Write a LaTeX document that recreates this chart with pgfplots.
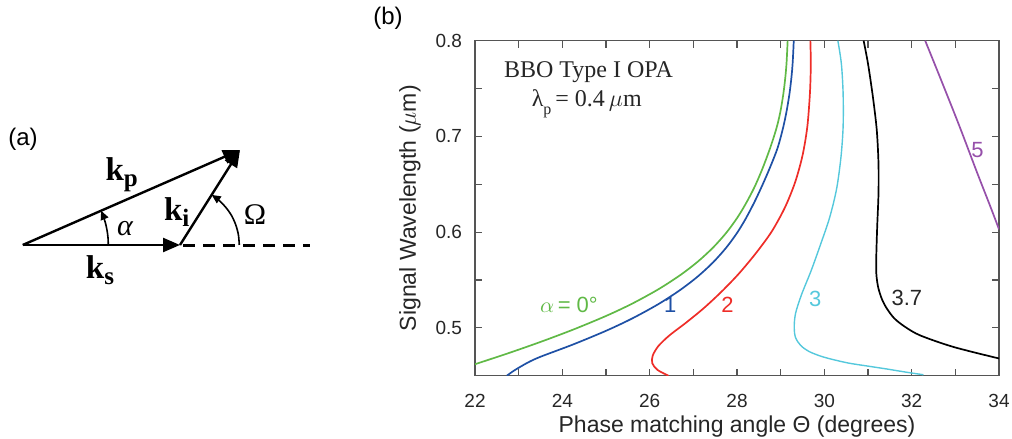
\documentclass[border=0pt]{standalone}
\usepackage{pgfplots}
\pgfplotsset{compat=1.18}
\usetikzlibrary{arrows.meta}
\usepackage{fontspec}
\setmainfont{Liberation Sans}
\newfontfamily\serif{Liberation Serif}
\definecolor{cgreen}{RGB}{96,185,70}
\definecolor{cblue}{RGB}{30,80,165}
\definecolor{cred}{RGB}{238,45,40}
\definecolor{ccyan}{RGB}{85,200,220}
\definecolor{cpurple}{RGB}{150,80,170}
\definecolor{frame}{RGB}{85,85,85}
\begin{document}
\begin{tikzpicture}
\useasboundingbox (0pt,0pt) rectangle (506pt,219.5pt);
% ---------- (a) diagram ----------
\begin{axis}[at={(0pt,0pt)}, anchor=south west, scale only axis,
  width=165pt, height=219.5pt, xmin=0, xmax=330, ymin=0, ymax=439,
  hide axis, clip=false]
\addplot[line width=1.2pt, -{Triangle[length=8.5pt,width=7pt]}] coordinates {(22.7,194) (180,194)};
\addplot[line width=1.2pt, -{Triangle[length=8.5pt,width=7pt]}] coordinates {(22.7,194) (240,289)};
\addplot[line width=1.2pt, -{Triangle[length=8.5pt,width=7pt]}] coordinates {(180,194) (240,289)};
\addplot[line width=1.2pt, dash pattern=on 6pt off 4pt] coordinates {(183,193.6) (310,193.6)};
\addplot[line width=0.8pt, smooth, -{Triangle[length=4.5pt,width=4pt]}] coordinates {
 (108.3,194) (108.0,201.5) (107.0,208.9) (105.4,216.2) (103.1,223.3) (101.1,228.3)};
\addplot[line width=0.8pt, smooth, -{Triangle[length=4.5pt,width=4pt]}] coordinates {
 (239.3,194) (238.4,204.3) (235.7,214.3) (231.4,223.7) (225.4,232.1) (218.1,239.4) (211.7,244.1)};
\node[font=\serif\fontsize{16.5}{16.5}\selectfont\bfseries] at (axis cs:121.7,264) {k\raisebox{-3pt}{\fontsize{12.5}{12.5}\selectfont p}};
\node[font=\serif\fontsize{16.5}{16.5}\selectfont\bfseries] at (axis cs:176.7,227.3) {k\raisebox{-3pt}{\fontsize{12.5}{12.5}\selectfont i}};
\node[font=\serif\fontsize{16.5}{16.5}\selectfont\bfseries] at (axis cs:100,169) {k\raisebox{-3pt}{\fontsize{12.5}{12.5}\selectfont s}};
\node[font=\serif\fontsize{15}{15}\selectfont\itshape] at (axis cs:125,210.7) {α};
\node[font=\serif\fontsize{15}{15}\selectfont] at (axis cs:255,224) {Ω};
\node[font=\fontsize{12}{12}\selectfont] at (axis cs:23,300) {(a)};
\node[font=\fontsize{12}{12}\selectfont] at (axis cs:388,420.5) {(b)};
\end{axis}
% ---------- (b) chart ----------
\begin{axis}[at={(237.5pt,31.65pt)}, anchor=south west, scale only axis,
  width=262pt, height=167.5pt,
  xmin=22, xmax=34, ymin=0.45, ymax=0.8,
  xtick={22,24,...,34}, minor xtick={23,25,...,33},
  ytick={0.5,0.6,0.7,0.8}, minor ytick={0.45,0.55,0.65,0.75},
  tick align=inside, tick pos=both, xticklabel pos=left, yticklabel pos=left,
  major tick length=3.5pt, minor tick length=3.5pt,
  axis line style={draw=frame, line width=0.6pt},
  every tick/.style={draw=frame, line width=0.6pt},
  every minor tick/.style={draw=frame, line width=0.6pt},
  /pgf/number format/assume math mode=true,
  ticklabel style={font=\fontsize{9.5}{11}\selectfont, text=black!85},
  yticklabel style={/pgf/number format/fixed, /pgf/number format/precision=1, /pgf/number format/fixed zerofill, xshift=-3pt},
  xticklabel style={yshift=-5.5pt},
  xlabel={Phase matching angle Θ (degrees)},
  ylabel={Signal Wavelength ($\mu$m)},
  every axis x label/.style={at={(axis description cs:0.5,-0.153)}, anchor=center, font=\fontsize{11.5}{13}\selectfont, text=black!85},
  every axis y label/.style={at={(axis description cs:-0.124,0.5)}, anchor=center, rotate=90, font=\fontsize{11.5}{13}\selectfont, text=black!85},
  no markers, clip mode=individual]
\addplot[cgreen, line width=0.85pt, smooth] coordinates {
 (22.0,0.462) (22.75,0.4733) (23.5,0.4853) (24.25,0.4982) (25.0,0.5124) (25.6,0.5253)
 (26.2,0.5403) (26.7,0.5551) (27.1,0.5691) (27.45,0.5838) (27.75,0.5991) (28.0,0.6146)
 (28.2,0.6296) (28.4,0.647) (28.58,0.666) (28.76,0.688) (28.9,0.708) (28.99,0.725)
 (29.06,0.744) (29.105,0.761) (29.135,0.777) (29.16,0.80)};
\addplot[cblue, line width=0.85pt, smooth] coordinates {
 (22.73,0.45) (22.9,0.4555) (23.2,0.4635) (23.5,0.4698) (24.25,0.4827) (25.0,0.4969)
 (25.6,0.5098) (26.2,0.5248) (26.7,0.5396) (27.1,0.5536) (27.45,0.5683) (27.75,0.5836)
 (28.0,0.5991) (28.2,0.6141) (28.4,0.6315) (28.58,0.649) (28.76,0.668) (28.93,0.688)
 (29.05,0.708) (29.13,0.725) (29.20,0.744) (29.245,0.761) (29.275,0.777) (29.30,0.80)};
\addplot[cred, line width=0.85pt, smooth] coordinates {
 (26.43,0.45) (26.18,0.456) (26.06,0.463) (26.07,0.471) (26.2,0.481) (26.45,0.492)
 (26.85,0.506) (27.25,0.521) (27.65,0.538) (28.05,0.557) (28.45,0.579) (28.8,0.601)
 (29.1,0.626) (29.33,0.652) (29.5,0.68) (29.61,0.71) (29.67,0.745) (29.69,0.775) (29.68,0.80)};
\addplot[ccyan, line width=0.7pt, smooth] coordinates {
 (32.27,0.451) (31.9,0.4535) (31.43,0.457) (31.0,0.460) (30.52,0.4635) (29.98,0.4695)
 (29.64,0.4755) (29.45,0.482) (29.34,0.490) (29.31,0.500) (29.34,0.515) (29.48,0.535)
 (29.70,0.560) (29.92,0.588) (30.12,0.615) (30.28,0.645) (30.38,0.678) (30.43,0.710)
 (30.43,0.745) (30.39,0.776) (30.31,0.80)};
\addplot[black, line width=0.85pt, smooth] coordinates {
 (30.90,0.80) (31.0,0.776) (31.11,0.742) (31.20,0.707) (31.24,0.672) (31.24,0.640)
 (31.21,0.605) (31.19,0.575) (31.19,0.557) (31.23,0.543) (31.31,0.531) (31.42,0.521)
 (31.60,0.510) (31.85,0.501) (32.20,0.492) (32.96,0.480) (34.0,0.468)};
\addplot[cpurple, line width=0.85pt, smooth] coordinates {
 (32.31,0.80) (32.7,0.756) (33.1,0.710) (33.5,0.662) (33.8,0.627) (34.0,0.603)};
\node[text=cgreen, font=\fontsize{11}{11}\selectfont] at (axis cs:24.15,0.524) {$\alpha$\,= 0°};
\node[text=cblue, font=\fontsize{11}{11}\selectfont] at (axis cs:26.47,0.524) {1};
\node[text=cred, font=\fontsize{11}{11}\selectfont] at (axis cs:27.78,0.524) {2};
\node[text=ccyan, font=\fontsize{11}{11}\selectfont] at (axis cs:29.79,0.530) {3};
\node[text=black!85, font=\fontsize{11}{11}\selectfont] at (axis cs:31.89,0.531) {3.7};
\node[text=cpurple, font=\fontsize{11}{11}\selectfont] at (axis cs:33.51,0.686) {5};
\node[text=black!85, font=\serif\fontsize{12}{12}\selectfont] at (axis cs:24.6,0.767) {BBO Type I OPA};
\node[text=black!85, font=\serif\fontsize{12}{12}\selectfont] at (axis cs:24.56,0.734) {λ\raisebox{-4pt}{\fontsize{8}{8}\selectfont p}\,= 0.4\,$\mu$m};
\end{axis}
\end{tikzpicture}
\end{document}
